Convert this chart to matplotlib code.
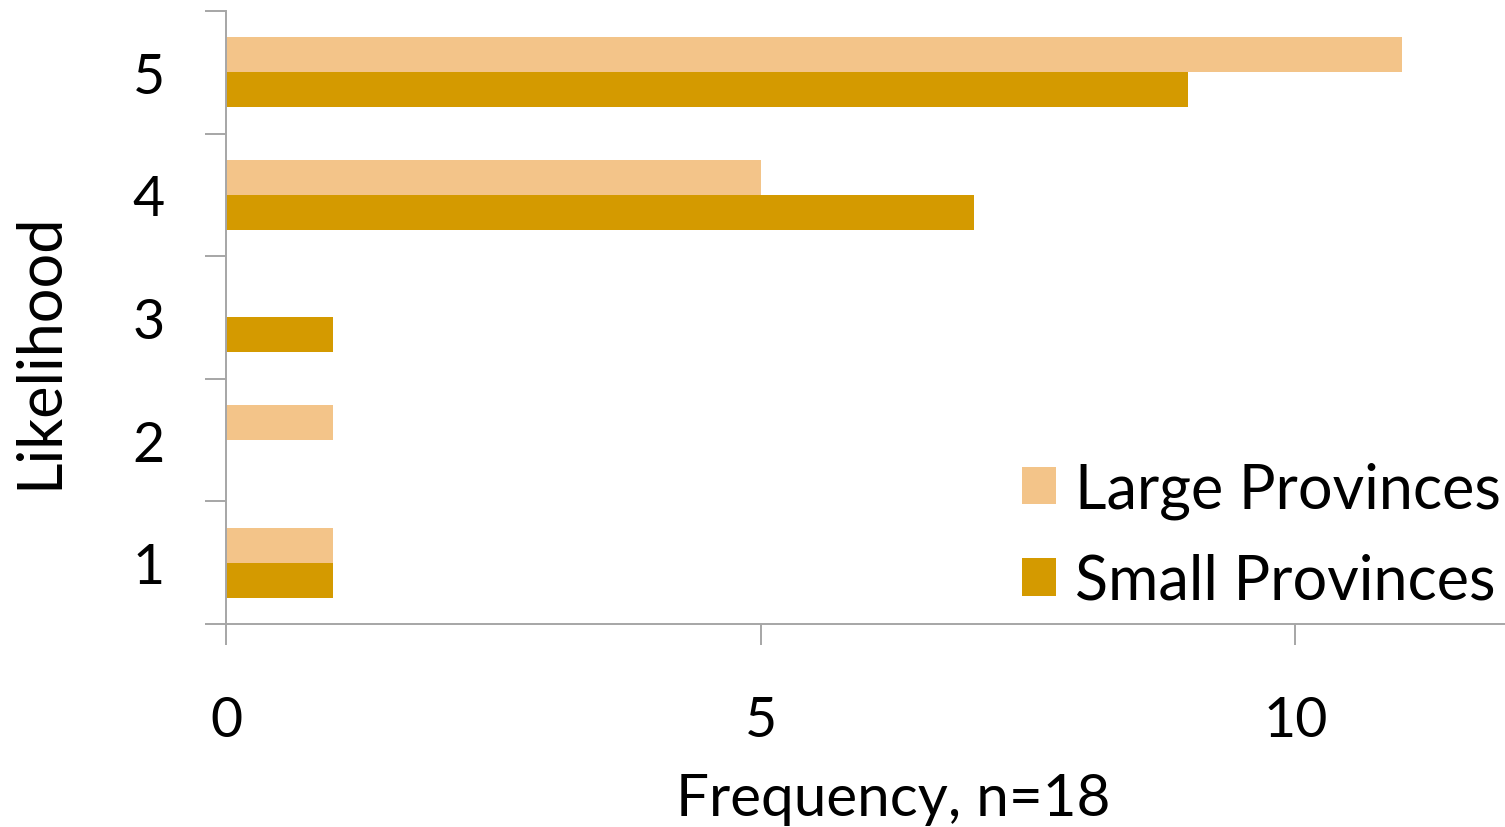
import numpy as np
import matplotlib.pyplot as plt

# survey counts per likelihood rating
likelihood = [1, 2, 3, 4, 5]
large_provinces = [1, 1, 0, 5, 11]
small_provinces = [1, 0, 1, 7, 9]

light = '#F3C489'
dark = '#D49A00'
axis_grey = '#A6A6A6'

plt.rcParams['font.family'] = ['Lato', 'DejaVu Sans']

fig = plt.figure(figsize=(15.05, 8.28), dpi=100)
ax = fig.add_axes([0.1502, 0.2452, 0.8525, 0.7403])

y = np.array(likelihood)
h = 0.285
ax.barh(y + h / 2, large_provinces, height=h, color=light, label='Large Provinces')
ax.barh(y - h / 2, small_provinces, height=h, color=dark, label='Small Provinces')

ax.set_xlim(0, 12)
ax.set_ylim(0.5, 5.5)

# category boundaries carry the tick marks, labels sit on the centres
ax.set_yticks(np.arange(0.5, 6.0, 1.0))
ax.set_yticklabels([])
ax.set_yticks(y, minor=True)
ax.set_yticklabels([str(v) for v in likelihood], minor=True, fontsize=40)
ax.tick_params(axis='y', which='major', length=15, width=1.4, color=axis_grey)
ax.tick_params(axis='y', which='minor', length=0, pad=44)

ax.set_xticks([0, 5, 10])
ax.set_xticklabels(['0', '5', '10'], fontsize=40)
ax.tick_params(axis='x', length=15, width=1.4, color=axis_grey, pad=36)

for side in ['top', 'right']:
    ax.spines[side].set_visible(False)
for side in ['left', 'bottom']:
    ax.spines[side].set_color(axis_grey)
    ax.spines[side].set_linewidth(1.4)

ax.set_xlabel('Frequency, n=18', fontsize=42)
ax.xaxis.set_label_coords(0.52, -0.242)
ax.set_ylabel('Likelihood', fontsize=44)
ax.yaxis.set_label_coords(-0.123, 0.447)

ax.legend(loc='lower right', bbox_to_anchor=(1.013, -0.016), frameon=False,
          fontsize=44, handlelength=0.57, handleheight=0.57, handletextpad=0.31,
          labelspacing=0.55, borderaxespad=0)

fig.savefig('out.png', dpi=100)
